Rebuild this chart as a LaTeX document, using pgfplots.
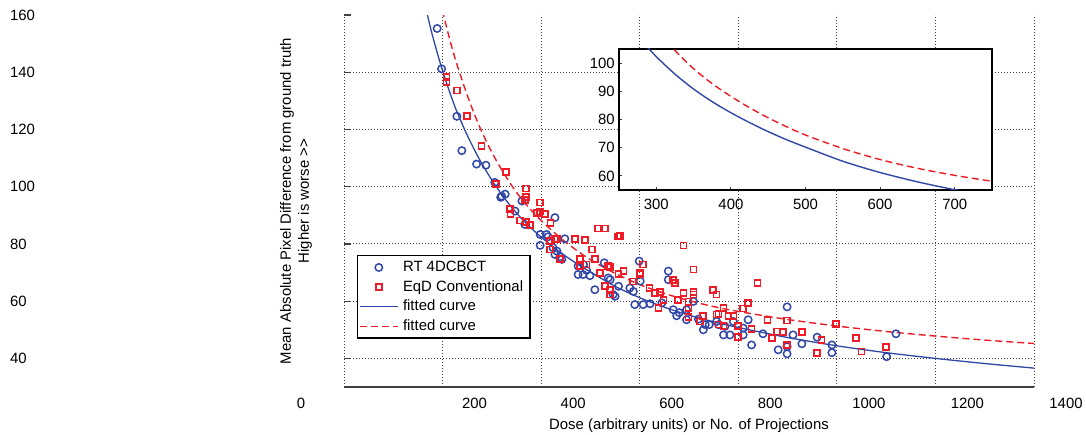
\documentclass[border=0pt]{standalone}
\usepackage{pgfplots}
\pgfplotsset{compat=1.18}
\usepackage{fontspec}
\setmainfont{Liberation Sans}
\definecolor{mblue}{rgb}{0.19,0.28,0.66}
\definecolor{mred}{rgb}{0.93,0.11,0.15}
\definecolor{gridc}{rgb}{0.25,0.25,0.25}
\pgfplotstableread{
x y
189 155.3
198 141.2
229 124.6
239 112.6
269 107.9
288 107.5
306 101.5
318 96.3
320 96.7
327 97.4
347 91.5
361 95.0
367 86.8
398 83.3
398 79.5
411 83.3
414 82.5
424 78.7
428 89.2
428 76.3
432 77.5
438 75.5
442 74.6
448 81.8
475 72.2
475 69.3
485 69.3
486 72.8
492 70.8
499 68.9
509 64.0
528 73.4
536 68.1
540 67.5
546 62.3
550 61.7
557 65.2
580 64.6
587 63.4
590 58.8
599 74.0
601 67.0
607 58.8
621 59.1
645 59.4
658 70.5
658 67.5
668 57.0
675 54.9
680 56.0
695 57.0
695 53.5
709 59.9
719 53.7
729 50.0
733 51.8
741 51.8
756 52.9
760 51.8
770 48.2
773 51.2
783 48.2
790 52.9
810 50.6
810 48.2
820 53.5
827 44.7
850 48.6
881 43.0
899 58.0
899 44.1
899 41.6
911 48.2
929 45.1
960 47.4
990 44.7
990 42.0
1101 40.6
1120 48.6
}\bluepts
\pgfplotstableread{
x y
208 138.3
208 136.6
229 133.6
249 124.6
279 114.3
308 100.9
329 105.2
337 92.1
338 90.4
357 88.2
367 95.4
369 99.4
369 96.3
369 87.6
377 86.5
391 90.9
398 94.5
398 91.3
408 90.4
418 81.0
418 78.1
419 87.2
428 81.6
432 81.6
438 74.8
469 81.6
479 74.8
479 72.2
489 81.3
492 72.8
503 78.1
509 74.8
516 85.4
519 69.9
530 85.4
530 65.2
536 72.2
540 72.0
540 64.0
540 62.3
556 82.6
557 69.6
560 82.7
567 70.5
587 66.9
601 69.9
601 69.3
607 72.8
620 64.6
631 62.9
638 57.6
641 63.1
648 60.5
668 67.3
672 66.4
678 60.5
689 79.5
689 62.9
699 59.9
699 57.6
699 54.4
709 71.1
709 63.1
709 62.3
722 52.9
729 54.9
749 64.0
756 62.3
756 55.3
760 51.8
760 55.6
770 57.6
770 51.2
780 54.7
790 54.9
800 51.4
800 47.4
809 57.4
820 59.4
827 50.2
839 66.4
859 53.5
868 47.1
879 49.4
890 49.1
899 53.2
899 44.7
929 49.3
959 41.8
969 46.5
998 52.0
1039 47.1
1050 42.4
1100 43.9
}\redpts
\pgfplotstableread{
x y
160 167
170 159.5
180 152.5
200 140.5
225 128
250 118
275 109.5
300 102.3
325 96.1
350 90.8
375 86.3
400 82.4
425 78.9
450 75.7
475 72.8
500 70.2
550 65.2
600 61.2
650 57.9
700 55.1
750 52.8
800 50.8
900 47.3
1000 44.4
1100 42.0
1200 40.0
1300 38.2
1400 36.6
}\bluefit
\pgfplotstableread{
x y
195 165.5
200 161.5
210 154.5
225 145
250 132
275 121
300 112
325 104.5
350 98
375 92.7
400 88.2
425 84.2
450 80.6
475 77.4
500 74.5
550 69.7
600 65.8
650 62.7
700 60.2
750 58.1
800 56.4
900 53.6
1000 51.3
1100 49.4
1200 47.8
1300 46.4
1400 45.2
}\redfit
\begin{document}
\begin{tikzpicture}[font=\fontsize{7.45}{9}\selectfont]
\path[use as bounding box] (0,0) rectangle (543pt,217pt);
\begin{axis}[
  at={(172pt,23.5pt)}, anchor=south west,
  scale only axis, width=345pt, height=186pt,
  xmin=0, xmax=1400, ymin=30, ymax=160,
  xtick={0,200,...,1400}, xticklabels={,200,400,600,800,1000,1200,1400},
  ytick={40,60,...,140}, extra y ticks={160}, extra y tick style={grid=none},
  /pgf/number format/assume math mode=true,
  /pgf/number format/1000 sep={},
  grid=major,
  major grid style={draw=gridc, line width=0.45pt, dash pattern=on 0.45pt off 1.05pt},
  axis line style={draw=none},
  xtick style={draw=none},
  ytick pos=left, tick align=inside, major tick length=3.5pt,
  ytick style={draw=gridc, line width=0.6pt},
  yticklabel style={anchor=west, xshift=-170.5pt},
  xticklabel style={xshift=16pt, yshift=-2pt},
  xlabel={Dose (arbitrary units) or No. of Projections},
  xlabel style={at={(axis description cs:0.5,0)}, anchor=north, yshift=-12.5pt},
  ylabel={Mean Absolute Pixel Difference from ground truth\\Higher is worse >{}>},
  ylabel style={at={(axis description cs:-0.0362,0.5)}, anchor=south, align=center},
  legend image code/.code={\draw[mark repeat=2,mark phase=2,#1] plot coordinates {(0pt,0pt) (9.25pt,0pt) (18.5pt,0pt)};},
  legend cell align=left,
  legend style={at={(rel axis cs:0.0188,0.3548)}, anchor=north west, draw=black, line width=0.65pt,
    inner sep=1pt, row sep=0pt, fill=white,
    nodes={inner xsep=2.5pt, inner ysep=1.0pt, text height=6pt, text depth=1.8pt}},
]
\draw[draw=gridc, line width=0.65pt] (rel axis cs:0,0) -- (rel axis cs:1,0);
\addplot[only marks, mark=o, mark size=1.85pt, draw=mblue, mark options={draw=mblue, fill=none, solid, line width=0.75pt}] table {\bluepts};
\addlegendentry{RT 4DCBCT}
\addplot[only marks, mark=square, mark size=1.5pt, draw=mred, mark options={draw=mred, fill=none, solid, line width=0.85pt}] table {\redpts};
\addlegendentry{EqD Conventional}
\addplot[draw=mblue, line width=0.65pt, smooth, no marks] table {\bluefit};
\addlegendentry{fitted curve}
\addplot[draw=mred, line width=0.7pt, smooth, no marks, dash pattern=on 3.5pt off 2pt] table {\redfit};
\addlegendentry{fitted curve}
\end{axis}
\node[anchor=north, yshift=-2pt] at (150.5pt,23.5pt) {0};
\begin{axis}[
  at={(309.5pt,122pt)}, anchor=south west,
  scale only axis, width=186.5pt, height=70.5pt,
  xmin=250, xmax=750, ymin=55, ymax=105,
  xtick={300,400,...,700}, ytick={60,70,...,100},
  /pgf/number format/assume math mode=true,
  axis background/.style={fill=white},
  axis line style={draw=black, line width=0.65pt},
  tick align=inside, major tick length=1.6pt,
  tick style={draw=gridc, line width=0.5pt},
  xtick pos=bottom, ytick pos=left,
  xticklabel style={yshift=-1pt},
  yticklabel style={inner sep=2pt},
]
\addplot[draw=mblue, line width=0.7pt, smooth, no marks] table {\bluefit};
\addplot[draw=mred, line width=0.7pt, smooth, no marks, dash pattern=on 3.5pt off 2pt] table {\redfit};
\end{axis}
\end{tikzpicture}
\end{document}
